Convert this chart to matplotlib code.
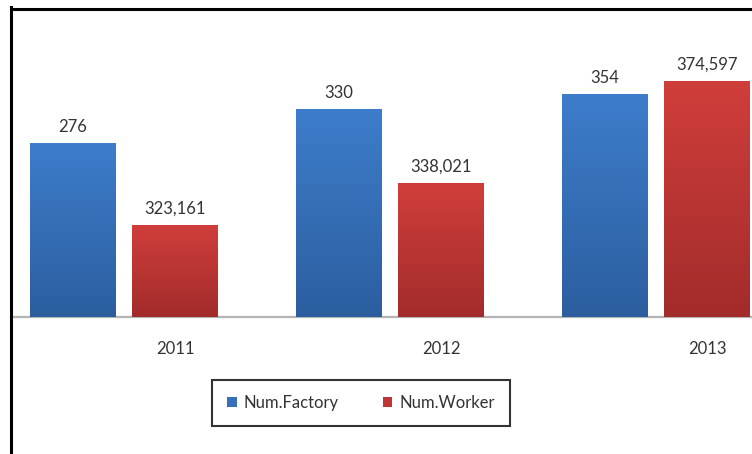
import numpy as np
import matplotlib
matplotlib.use("Agg")
import matplotlib.pyplot as plt
from matplotlib.lines import Line2D
from matplotlib.colors import LinearSegmentedColormap

years = ["2011", "2012", "2013"]
factories = [276, 330, 354]
workers = [323161, 338021, 374597]

plt.rcParams["font.family"] = ["Lato", "DejaVu Sans"]

W, H = 752, 454
fig = plt.figure(figsize=(W / 100, H / 100), dpi=100)

ax = fig.add_axes([13 / W, 137 / H, 739 / W, 308 / H])
ax2 = ax.twinx()

x = np.arange(len(years))
bw = 0.3233
off = 0.1917
f_lim = (0, 489)
w_lim = (290300, 400300)

blue_top, blue_bot, blue_mid = "#3d7dcb", "#2c5e9f", "#3570b8"
red_top, red_bot, red_mid = "#d03e3b", "#a22c2b", "#bf3634"

bars1 = ax.bar(x - off, factories, bw, color=blue_mid, label="Num.Factory", zorder=2)
# the worker axis does not start at zero, so bars rise from its lower limit
w_base = w_lim[0]
bars2 = ax2.bar(x + off, np.array(workers) - w_base, bw, bottom=w_base,
                color=red_mid, label="Num.Worker", zorder=2)


def shade(axis, bars, top, bot):
    cmap = LinearSegmentedColormap.from_list("g", [bot, top])
    grad = np.linspace(0, 1, 256).reshape(-1, 1)
    for b in bars:
        x0, y0 = b.get_x(), b.get_y()
        w, h = b.get_width(), b.get_height()
        im = axis.imshow(grad, cmap=cmap, origin="lower", aspect="auto",
                         extent=(x0, x0 + w, y0, y0 + h), zorder=3)
        im.set_clip_path(b)


shade(ax, bars1, blue_top, blue_bot)
shade(ax2, bars2, red_top, red_bot)
ax.set_xlim(-0.4173, 2.3609)
ax.set_ylim(*f_lim)
ax2.set_ylim(*w_lim)

ax.bar_label(bars1, labels=[f"{v:,}" for v in factories], padding=6,
             fontsize=12, color="#333333", zorder=4)
ax2.bar_label(bars2, labels=[f"{v:,}" for v in workers], padding=6,
              fontsize=12, color="#333333", zorder=4)

for a in (ax, ax2):
    for s in ("top", "left", "right"):
        a.spines[s].set_visible(False)
    a.set_yticks([])
ax2.spines["bottom"].set_visible(False)
ax.spines["bottom"].set_color("#b4b4b4")
ax.spines["bottom"].set_linewidth(1.6)

ax.set_xticks(x + off)
ax.set_xticklabels(years, fontsize=12, color="#333333")
ax.tick_params(axis="x", length=0, pad=17)

leg = fig.legend(handles=[bars1, bars2], loc="center",
                 bbox_to_anchor=(361 / W, 1 - 403 / H), ncol=2,
                 fontsize=12, frameon=True, fancybox=False,
                 handlelength=0.55, handleheight=0.55, handletextpad=0.4,
                 columnspacing=2.7, borderpad=0.9, borderaxespad=0)
leg.get_frame().set_edgecolor("black")
leg.get_frame().set_linewidth(1.5)
for t in leg.get_texts():
    t.set_color("#333333")

# outer frame (left and top edges)
fig.add_artist(Line2D([10.5 / W, 10.5 / W], [0, 1 - 7 / H],
                      transform=fig.transFigure, color="black", lw=2.2,
                      solid_capstyle="projecting"))
fig.add_artist(Line2D([10.5 / W, 1], [1 - 8.5 / H, 1 - 8.5 / H],
                      transform=fig.transFigure, color="black", lw=2.2,
                      solid_capstyle="butt"))

fig.savefig("out.png", dpi=100)
